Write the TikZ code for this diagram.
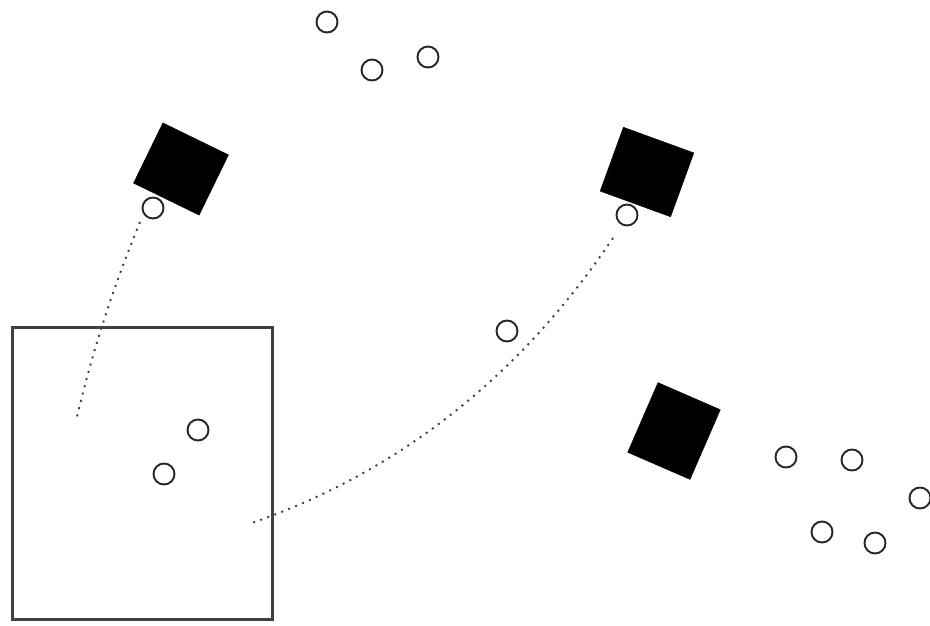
\documentclass[tikz,border=0pt]{standalone}
\begin{document}
\begin{tikzpicture}[x=1pt,y=-1pt,
  ring/.style={circle,draw=black!85,line width=1.9pt,minimum size=21pt,inner sep=0pt},
  block/.style={rectangle,fill=black,draw=black,inner sep=0pt},
  dotline/.style={draw=black!75,line width=1.9pt,dash pattern=on 2pt off 5.5pt}]
\useasboundingbox[fill=white] (0,0) rectangle (930,625);
% enclosure
\node[draw=black!75,line width=2.2pt,minimum width=260pt,minimum height=292pt,inner sep=0pt] (room) at (142.5,473.5) {};
% blocks
\node[block,minimum width=73pt,minimum height=67pt,rotate=-26] (b1) at (181,169) {};
\node[block,minimum width=75pt,minimum height=68pt,rotate=-20] (b2) at (647,172) {};
\node[block,minimum width=68pt,minimum height=76pt,rotate=-23.5] (b3) at (674,431) {};
% rings
\node[ring] (r1) at (327,22) {};
\node[ring] (r2) at (372,70) {};
\node[ring] (r3) at (428,57) {};
\node[ring] (r4) at (153,208) {};
\node[ring] (r5) at (627,215) {};
\node[ring] (r6) at (507,331) {};
\node[ring] (r7) at (198,430) {};
\node[ring] (r8) at (164,474) {};
\node[ring] (r9) at (786,457) {};
\node[ring] (r10) at (852,460) {};
\node[ring] (r11) at (920,498) {};
\node[ring] (r12) at (822,532) {};
\node[ring] (r13) at (875,543) {};
% connectors
\coordinate (e1) at (77,417);
\coordinate (e2) at (252,523);
\path (r4) ++(-13,14) coordinate (s1);
\path (r5) ++(-14,23) coordinate (s2);
\draw[dotline] (s1) .. controls (113,287.7) and (92,352.7) .. (e1);
\draw[dotline] (s2) .. controls (520,376.3) and (399.7,471.3) .. (e2);
\end{tikzpicture}
\end{document}
